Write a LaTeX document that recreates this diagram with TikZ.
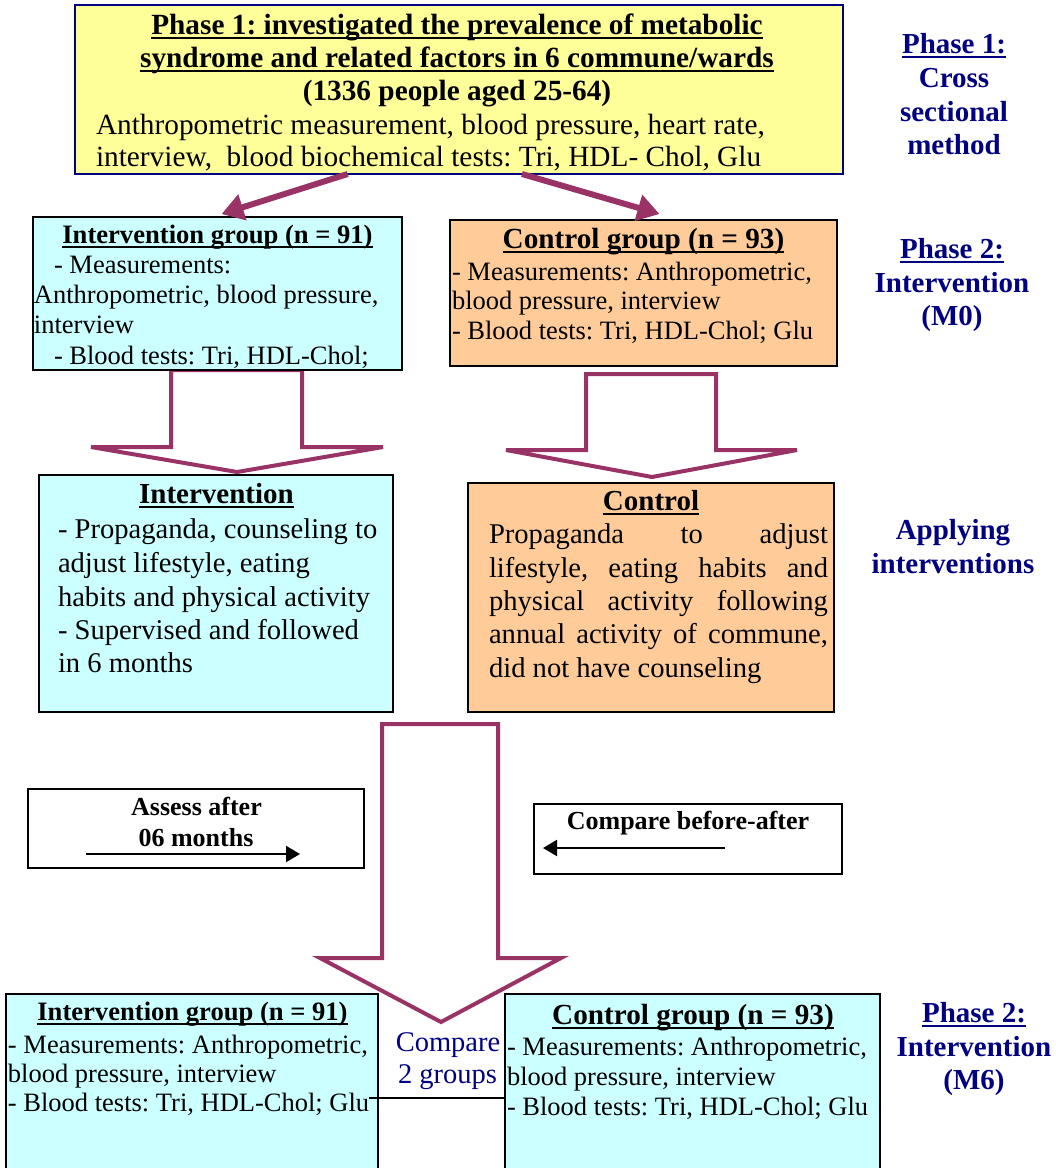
\documentclass[tikz,border=0pt]{standalone}
\usepackage{fontspec}
\setmainfont{Liberation Serif}
\usetikzlibrary{arrows.meta,calc}
\definecolor{yel}{HTML}{FFFF99}
\definecolor{cyanbox}{HTML}{CCFFFF}
\definecolor{orabox}{HTML}{FFCC99}
\definecolor{purp}{HTML}{993366}
\definecolor{navy}{HTML}{000080}
\frenchspacing
\newcommand\myul[1]{\leavevmode\setbox0\hbox{#1}\rlap{\rule[-0.17em]{\wd0}{0.065em}}\box0}
\tikzset{
  box/.style={draw=black, line width=2pt, inner sep=0pt, outer sep=0pt, anchor=north west},
  txt/.style={inner sep=0pt, outer sep=0pt, anchor=base west},
  ctxt/.style={inner sep=0pt, outer sep=0pt, anchor=base},
  yh/.style={font=\fontsize{29.3pt}{33pt}\selectfont\bfseries},
  yr/.style={font=\fontsize{29.3pt}{33pt}\selectfont},
  gha/.style={font=\fontsize{26.6pt}{30pt}\selectfont\bfseries},
  ghb/.style={font=\fontsize{29.2pt}{33pt}\selectfont\bfseries},
  gb/.style={font=\fontsize{26.5pt}{30pt}\selectfont},
  ih/.style={font=\fontsize{29pt}{33pt}\selectfont\bfseries},
  ib/.style={font=\fontsize{28.6pt}{33pt}\selectfont},
  lab/.style={font=\fontsize{29pt}{33pt}\selectfont\bfseries, text=navy},
  sm/.style={font=\fontsize{26pt}{30pt}\selectfont\bfseries},
  nv/.style={font=\fontsize{28.5pt}{33pt}\selectfont, text=navy},
  barrow/.style={draw=purp, line width=4pt, fill=white, line join=miter},
  parrow/.style={draw=purp, line width=6pt, -{Triangle[length=22pt,width=26pt]}},
  karrow/.style={draw=black, line width=2pt, -{Triangle[length=14pt,width=16pt]}}
}
\begin{document}
\begin{tikzpicture}[x=1pt,y=-1pt]
\useasboundingbox (0,0) rectangle (1056,1168);
\clip (0,0) rectangle (1056,1168);

% ---- block arrows (drawn first, boxes on top)
\draw[barrow] (171,370) -- (302,370) -- (302,447) -- (383,447) -- (237,472) -- (91,447) -- (171,447) -- cycle;
\draw[barrow] (586,374) -- (716,374) -- (716,450) -- (797,450) -- (652,477) -- (506,450) -- (586,450) -- cycle;
\draw[barrow] (382,724) -- (498,724) -- (498,958) -- (561,958) -- (441,1022) -- (320,958) -- (382,958) -- cycle;

% ---- Phase 1 box
\node[box, fill=yel, draw=navy, minimum width=768pt, minimum height=169pt] (yb) at (75,5) {};
\node[ctxt, yh] (y1) at (457,34) {\myul{Phase 1: investigated the prevalence of metabolic}};
\node[ctxt, yh] (y2) at (457,67) {\myul{syndrome and related factors in 6 commune/wards}};
\node[ctxt, yh] (y3) at (457,100) {(1336 people aged 25-64)};
\node[txt, yr] (y4) at (96,134) {Anthropometric measurement, blood pressure, heart rate,};
\node[txt, yr] (y5) at (96,166) {interview,\ \ blood biochemical tests: Tri, HDL- Chol, Glu};

% ---- M0 group boxes
\node[box, fill=cyanbox, minimum width=369pt, minimum height=153pt] (ig) at (33,217) {};
\node[ctxt, gha] (ig1) at (217.5,243) {\myul{Intervention group (n = 91)}};
\node[txt, gb] (ig2) at (54,273) {- Measurements:};
\node[txt, gb] (ig3) at (34,303) {Anthropometric, blood pressure,};
\node[txt, gb] (ig4) at (34,333) {interview};
\node[txt, gb] (ig5) at (54,364) {- Blood tests: Tri, HDL-Chol;};

\node[box, fill=orabox, minimum width=387pt, minimum height=146pt] (og) at (450,220) {};
\node[ctxt, ghb] (og1) at (643.5,248) {\myul{Control group (n = 93)}};
\node[txt, gb] (og2) at (452,280) {- Measurements: Anthropometric,};
\node[txt, gb] (og3) at (452,309) {blood pressure, interview};
\node[txt, gb] (og4) at (452,339) {- Blood tests: Tri, HDL-Chol; Glu};

% ---- arrows from Phase 1 box
\draw[parrow] ($(yb.south west)!0.355!(yb.south east)$) -- ($(ig.north)+(4,-3)$);
\draw[parrow] ($(yb.south west)!0.582!(yb.south east)$) -- ($(og.north)+(16,-6)$);

% ---- intervention / control boxes
\node[box, fill=cyanbox, minimum width=354pt, minimum height=237pt] (iv) at (39,475) {};
\node[ctxt, ih] (iv1) at (216.5,503) {\myul{Intervention}};
\node[txt, ib] (iv2) at (58,538) {- Propaganda, counseling to};
\node[txt, ib] (iv3) at (58,572) {adjust lifestyle, eating};
\node[txt, ib] (iv4) at (58,606) {habits and physical activity};
\node[txt, ib] (iv5) at (58,639) {- Supervised and followed};
\node[txt, ib] (iv6) at (58,672) {in 6 months};

\node[box, fill=orabox, minimum width=366pt, minimum height=229pt] (cb) at (468,483) {};
\node[ctxt, ih] (cb1) at (651,510) {\myul{Control}};
\node[txt, ib] (cb2) at (489,543) {\makebox[339pt][s]{Propaganda to adjust}};
\node[txt, ib] (cb3) at (489,577) {\makebox[339pt][s]{lifestyle, eating habits and}};
\node[txt, ib] (cb4) at (489,610) {\makebox[339pt][s]{physical activity following}};
\node[txt, ib] (cb5) at (489,643) {\makebox[339pt][s]{annual activity of commune,}};
\node[txt, ib] (cb6) at (489,677) {did not have counseling};

% ---- small boxes
\node[box, fill=white, minimum width=336pt, minimum height=79pt] (ab) at (28,789) {};
\node[ctxt, sm] (ab1) at (196.5,815) {Assess after};
\node[ctxt, sm] (ab2) at (196,846) {06 months};
\coordinate (abs) at (86,854);
\coordinate (abe) at (300,854);
\draw[karrow] (abs) -- (abe);

\node[box, fill=white, minimum width=308pt, minimum height=70pt] (cp) at (534,804) {};
\node[ctxt, sm] (cp1) at (688,829) {Compare before-after};
\coordinate (cps) at (725,848);
\coordinate (cpe) at (543,848);
\draw[karrow] (cps) -- (cpe);

% ---- M6 group boxes
\node[box, fill=cyanbox, line width=1.5pt, minimum width=372pt, minimum height=190pt] (lb) at (6,994) {};
\node[ctxt, gha] (lb1) at (192.5,1020) {\myul{Intervention group (n = 91)}};
\node[txt, gb] (lb2) at (8,1053) {- Measurements: Anthropometric,};
\node[txt, gb] (lb3) at (8,1082) {blood pressure, interview};
\node[txt, gb] (lb4) at (8,1111) {- Blood tests: Tri, HDL-Chol; Glu};

\node[box, fill=cyanbox, line width=1.5pt, minimum width=375pt, minimum height=190pt] (rb) at (505,994) {};
\node[ctxt, ghb] (rb1) at (693,1024) {\myul{Control group (n = 93)}};
\node[txt, gb] (rb2) at (507,1055) {- Measurements: Anthropometric,};
\node[txt, gb] (rb3) at (507,1085) {blood pressure, interview};
\node[txt, gb] (rb4) at (507,1115) {- Blood tests: Tri, HDL-Chol; Glu};

\node[ctxt, nv] (c1) at (448,1051) {Compare};
\node[ctxt, nv] (c2) at (447.5,1083) {2 groups};
\coordinate (cl) at (369,1098);
\draw[black, line width=1.5pt] (cl) -- (rb.west |- cl);

% ---- right-hand labels
\node[ctxt, lab] (p1a) at (954,53) {\myul{Phase 1:}};
\node[ctxt, lab] (p1b) at (954,87) {Cross};
\node[ctxt, lab] (p1c) at (954,121) {sectional};
\node[ctxt, lab] (p1d) at (954,154) {method};
\node[ctxt, lab] (p2a) at (952,258) {\myul{Phase 2:}};
\node[ctxt, lab] (p2b) at (952,292) {Intervention};
\node[ctxt, lab] (p2c) at (952,325) {(M0)};
\node[ctxt, lab] (apa) at (953,539) {Applying};
\node[ctxt, lab] (apb) at (953,573) {interventions};
\node[ctxt, lab] (p3a) at (974,1022) {\myul{Phase 2:}};
\node[ctxt, lab] (p3b) at (974,1056) {Intervention};
\node[ctxt, lab] (p3c) at (974,1089) {(M6)};
\end{tikzpicture}
\end{document}
